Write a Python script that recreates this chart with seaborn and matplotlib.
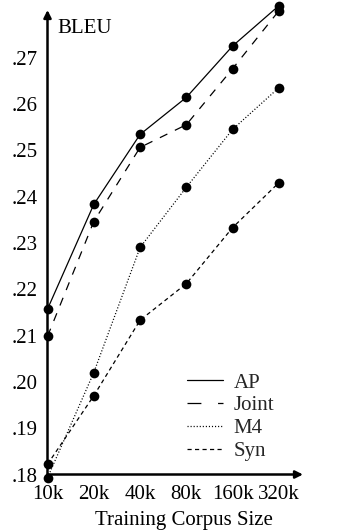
import numpy as np
import pandas as pd
import matplotlib
matplotlib.use("Agg")
import matplotlib.pyplot as plt
import seaborn as sns
from matplotlib.lines import Line2D

sizes = ["10k", "20k", "40k", "80k", "160k", "320k"]
ap = [0.2157, 0.2383, 0.2534, 0.2614, 0.2725, 0.2812]
joint = [0.2098, 0.2346, 0.2506, 0.2555, 0.2676, 0.2801]
m4 = [0.1793, 0.2020, 0.2290, 0.2420, 0.2545, 0.2635]
syn = [0.1822, 0.1970, 0.2133, 0.2212, 0.2333, 0.2430]
systems = ["AP", "Joint", "M4", "Syn"]
yticks = [0.18, 0.19, 0.20, 0.21, 0.22, 0.23, 0.24, 0.25, 0.26, 0.27]

sns.set_theme(style="white")
plt.rcParams["font.family"] = ["Liberation Serif", "DejaVu Serif"]
plt.rcParams["lines.scale_dashes"] = False

rows = []
for name, vals in zip(systems, [ap, joint, m4, syn]):
    for i, v in enumerate(vals):
        rows.append({"pos": i, "size": sizes[i], "bleu": v, "system": name})
df = pd.DataFrame(rows)

dashes = {"AP": "", "Joint": (6, 6), "M4": (0.8, 1.4), "Syn": (3, 2.4)}

W, H = 337, 531
fig = plt.figure(figsize=(W / 100, H / 100), dpi=100)
x0, x1 = 47.5, 303
y0, y1 = 474.5, 10
ax = fig.add_axes([x0 / W, (H - y0) / H, (x1 - x0) / W, (y0 - y1) / H])

sns.lineplot(data=df, x="pos", y="bleu", style="system", dashes=dashes,
             color="black", lw=0.9, markers={s: "o" for s in systems},
             markersize=7, markeredgewidth=0, legend=False, ax=ax,
             clip_on=False, zorder=3)

ax.set_xlim(0, 5.52)
ax.set_ylim(0.18, 0.18 + (y0 - y1) / 46.33 * 0.01)
ax.set_xticks(range(len(sizes)))
ax.set_xticklabels(sizes, fontsize=15)
ax.set_yticks(yticks)
ax.set_yticklabels(["." + f"{v:.2f}".split(".")[1] for v in yticks], fontsize=15)
ax.tick_params(axis="x", direction="in", length=4, width=1.3, pad=7.5, colors="black")
ax.tick_params(axis="y", direction="out", length=4, width=1.3, pad=3, colors="black")
ax.tick_params(labelcolor="black")
for s in ax.spines.values():
    s.set_visible(False)
ax.set_xlabel("")
ax.set_ylabel("")

ax.annotate("", xy=(1, 0), xytext=(0, 0), xycoords="axes fraction",
            arrowprops=dict(arrowstyle="-|>", lw=1.8, color="black",
                            mutation_scale=11, shrinkA=0, shrinkB=0))
ax.annotate("", xy=(0, 1), xytext=(0, 0), xycoords="axes fraction",
            arrowprops=dict(arrowstyle="-|>", lw=1.8, color="black",
                            mutation_scale=11, shrinkA=0, shrinkB=0))

fig.text(57 / W, 1 - 19 / H, "BLEU", fontsize=15, va="top", ha="left", color="black")
fig.text(184 / W, 1 - 511 / H, "Training Corpus Size", fontsize=15, va="top",
         ha="center", color="black")

handles = [Line2D([], [], color="black", lw=0.9, linestyle="-"),
           Line2D([], [], color="black", lw=0.9, linestyle=(0, (10, 12))),
           Line2D([], [], color="black", lw=0.9, linestyle=(0, (0.8, 1.4))),
           Line2D([], [], color="black", lw=0.9, linestyle=(0, (3, 2.4)))]
leg = fig.legend(handles, systems, loc="upper left",
                 bbox_to_anchor=(187 / W, 1 - 373 / H), frameon=False,
                 fontsize=15, handlelength=1.75, handletextpad=0.5,
                 labelspacing=0.16, borderpad=0, borderaxespad=0)

fig.savefig("out.png", dpi=100)
